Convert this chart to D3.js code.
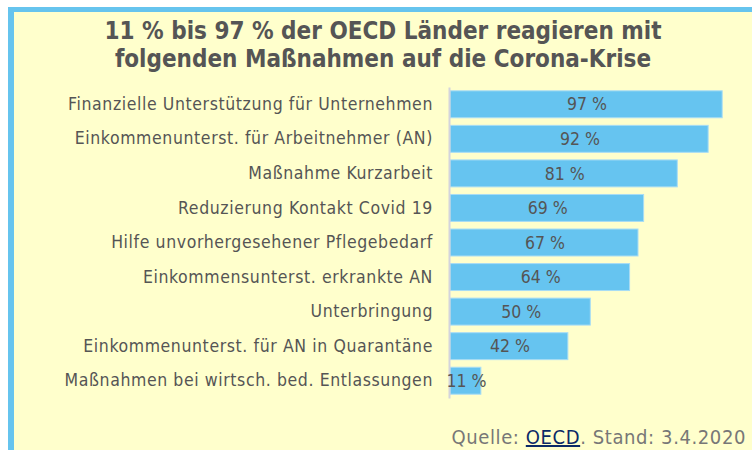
<!DOCTYPE html>
<html>
<head>
<meta charset="utf-8">
<script src="https://cdn.jsdelivr.net/npm/d3@7"></script>
<style>
  html, body { margin: 0; padding: 0; background: #ffffff; }
  svg { display: block; }
</style>
</head>
<body>
<div id="chart"></div>
<script>
const categories = [
  "Finanzielle Unterstützung für Unternehmen",
  "Einkommenunterst. für Arbeitnehmer (AN)",
  "Maßnahme Kurzarbeit",
  "Reduzierung Kontakt Covid 19",
  "Hilfe unvorhergesehener Pflegebedarf",
  "Einkommensunterst. erkrankte AN",
  "Unterbringung",
  "Einkommenunterst. für AN in Quarantäne",
  "Maßnahmen bei wirtsch. bed. Entlassungen"
];
const values = [97, 92, 81, 69, 67, 64, 50, 42, 11];
const titleLines = [
  "11 % bis 97 % der OECD Länder reagieren mit",
  "folgenden Maßnahmen auf die Corona-Krise"
];
const sourceParts = ["Quelle: ", "OECD", ". Stand: 3.4.2020"];

const W = 752, H = 450;
const FONT = "'DejaVu Sans Condensed', 'DejaVu Sans', sans-serif";

const svg = d3.select("#chart").append("svg")
  .attr("width", W).attr("height", H);

// background panel
svg.append("rect").attr("x", 0).attr("y", 0).attr("width", W).attr("height", H).attr("fill", "#ffffff");
svg.append("rect").attr("x", 8).attr("y", 7).attr("width", W - 8).attr("height", H - 7).attr("fill", "#66c4ee");
svg.append("rect").attr("x", 14).attr("y", 12).attr("width", W - 14).attr("height", H - 12).attr("fill", "#ffffcc");

// title
svg.append("text")
  .attr("text-anchor", "middle")
  .attr("font-family", FONT)
  .attr("font-weight", "bold")
  .attr("font-size", 24)
  .attr("fill", "#555555")
  .selectAll("tspan")
  .data(titleLines)
  .join("tspan")
  .attr("x", 383)
  .attr("y", (d, i) => 39 + i * 28)
  .text(d => d);

const x = d3.scaleLinear().domain([0, 100]).range([450, 730.6]);
const y = d3.scaleBand().domain(categories).range([87, 398])
  .paddingInner(0.22).paddingOuter(0.11);

// bars
svg.append("g").selectAll("rect")
  .data(values)
  .join("rect")
  .attr("x", x(0))
  .attr("y", (d, i) => y(categories[i]))
  .attr("width", d => x(d) - x(0))
  .attr("height", y.bandwidth())
  .attr("fill", "#66c4f0")
  .attr("stroke", "#a8dcf5")
  .attr("stroke-width", 1);

// axis (category labels)
const yAxis = d3.axisLeft(y).tickSize(0).tickPadding(16);
const gAxis = svg.append("g").attr("transform", `translate(${x(0) - 1},0)`).call(yAxis);
gAxis.select(".domain").attr("stroke", "#d4d4dc").attr("stroke-width", 2);
gAxis.selectAll(".tick text")
  .attr("font-family", FONT)
  .attr("font-size", 17.5)
  .attr("letter-spacing", 0.6)
  .attr("fill", "#555555");

// value labels
svg.append("g").selectAll("text")
  .data(values)
  .join("text")
  .attr("x", d => (x(0) + x(d)) / 2 + 1)
  .attr("y", (d, i) => y(categories[i]) + y.bandwidth() / 2)
  .attr("dy", "0.35em")
  .attr("text-anchor", "middle")
  .attr("font-family", FONT)
  .attr("font-size", 17.5)
  .attr("fill", "#555555")
  .text(d => d + " %");

// source
const src = svg.append("text")
  .attr("x", 746).attr("y", 444)
  .attr("text-anchor", "end")
  .attr("font-family", FONT)
  .attr("font-size", 20)
  .attr("letter-spacing", 0.6)
  .attr("fill", "#777777");
src.append("tspan").text(sourceParts[0]);
src.append("tspan").text(sourceParts[1]).attr("fill", "#0b2a66").attr("text-decoration", "underline");
src.append("tspan").text(sourceParts[2]);
</script>
</body>
</html>
